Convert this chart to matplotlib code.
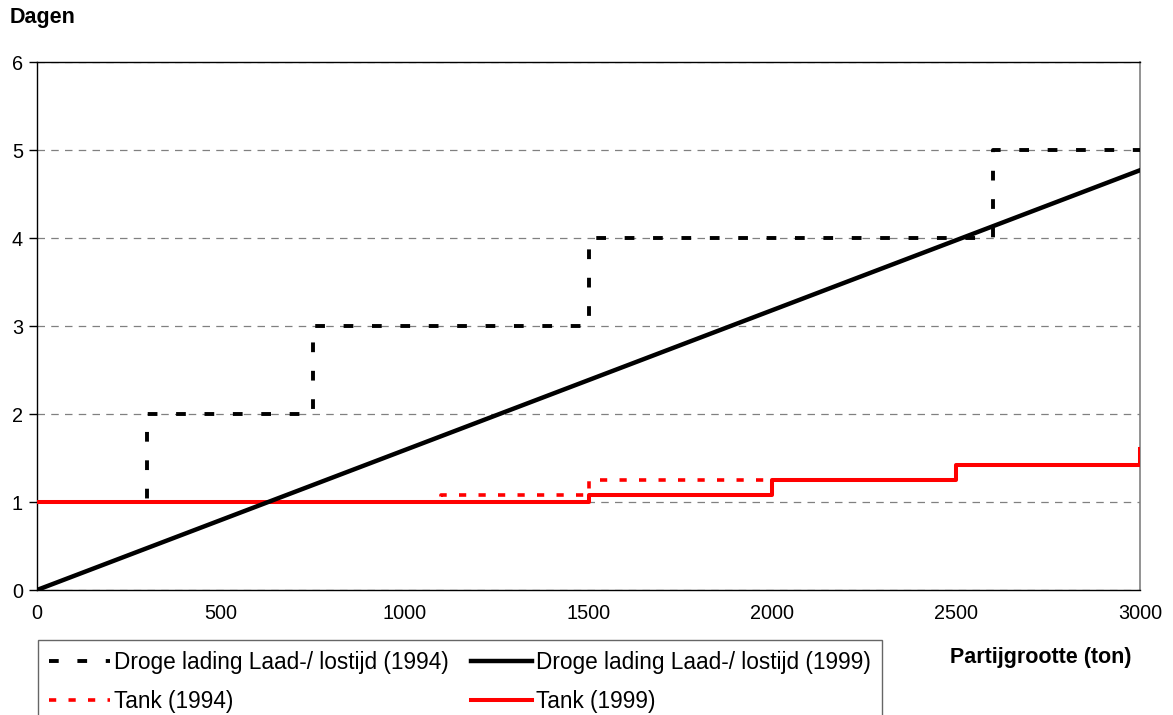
"""Laad-/ lostijd per partijgrootte, droge lading en tank."""

import matplotlib

matplotlib.use("Agg")
import matplotlib.pyplot as plt

plt.rcParams["font.family"] = ["Liberation Sans", "DejaVu Sans"]

# data
DROOG_1994_X = [0, 300, 750, 1500, 2600, 3000]
DROOG_1994_Y = [1, 2, 3, 4, 5, 5]
DROOG_1999_X = [0, 3000]
DROOG_1999_Y = [0, 4.77]
TANK_1994_X = [0, 1100, 1500, 2000]
TANK_1994_Y = [1, 1.08, 1.25, 1.25]
TANK_1999_X = [0, 1500, 2000, 2500, 3000, 3000]
TANK_1999_Y = [1, 1.08, 1.25, 1.42, 1.42, 1.6]

X_TICKS = [0, 500, 1000, 1500, 2000, 2500, 3000]
Y_TICKS = [0, 1, 2, 3, 4, 5, 6]

LABELS = [
    "Droge lading Laad-/ lostijd (1994)",
    "Droge lading Laad-/ lostijd (1999)",
    "Tank (1994)",
    "Tank (1999)",
]

TICK_FS = 14.3
LEG_FS = 16.3
TITLE_FS = 15.5

fig = plt.figure(figsize=(11.73, 7.15), dpi=100)
ax = fig.add_axes([37 / 1173, 1 - 590 / 715, 1103 / 1173, 528 / 715])

h1, = ax.step(DROOG_1994_X, DROOG_1994_Y, where="post", color="black",
              lw=2.8, dashes=(2.5, 4.8), zorder=3)
h3, = ax.step(TANK_1994_X, TANK_1994_Y, where="post", color="red",
              lw=2.6, dashes=(2.0, 3.4), zorder=4)
h4, = ax.step(TANK_1999_X, TANK_1999_Y, where="post", color="red",
              lw=2.9, zorder=5)
h2, = ax.plot(DROOG_1999_X, DROOG_1999_Y, color="black", lw=3.2, zorder=6)

ax.set_xlim(0, 3000)
ax.set_ylim(0, 6)
ax.set_xticks(X_TICKS)
ax.set_yticks(Y_TICKS)
ax.tick_params(axis="x", length=0, pad=10, labelsize=TICK_FS)
ax.tick_params(axis="y", length=6, width=1, pad=4, labelsize=TICK_FS)
ax.grid(axis="y", color="#808080", ls=(0, (6, 5)), lw=0.9)
for side in ("left", "bottom", "top"):
    ax.spines[side].set_color("black")
    ax.spines[side].set_linewidth(1.0)
ax.spines["right"].set_color("#808080")
ax.spines["right"].set_linewidth(1.2)

fig.text(10 / 1173, 1 - 18 / 715, "Dagen", fontsize=TITLE_FS,
         fontweight="bold", va="center", ha="left")
fig.text(1132 / 1173, 1 - 658 / 715, "Partijgrootte (ton)", fontsize=TITLE_FS,
         fontweight="bold", va="center", ha="right")

# matplotlib fills legend columns first, so order the handles column-wise
leg = fig.legend([h1, h3, h2, h4], [LABELS[0], LABELS[2], LABELS[1], LABELS[3]],
                 loc="upper left", bbox_to_anchor=(38 / 1173, 1 - 640 / 715),
                 ncol=2, fontsize=LEG_FS, frameon=True, fancybox=False,
                 edgecolor="#404040", handlelength=2.7, handletextpad=0.15,
                 columnspacing=1.0, labelspacing=0.68, borderpad=0.5,
                 borderaxespad=0)
leg.get_frame().set_linewidth(1.0)

fig.savefig("out.png", dpi=100)
